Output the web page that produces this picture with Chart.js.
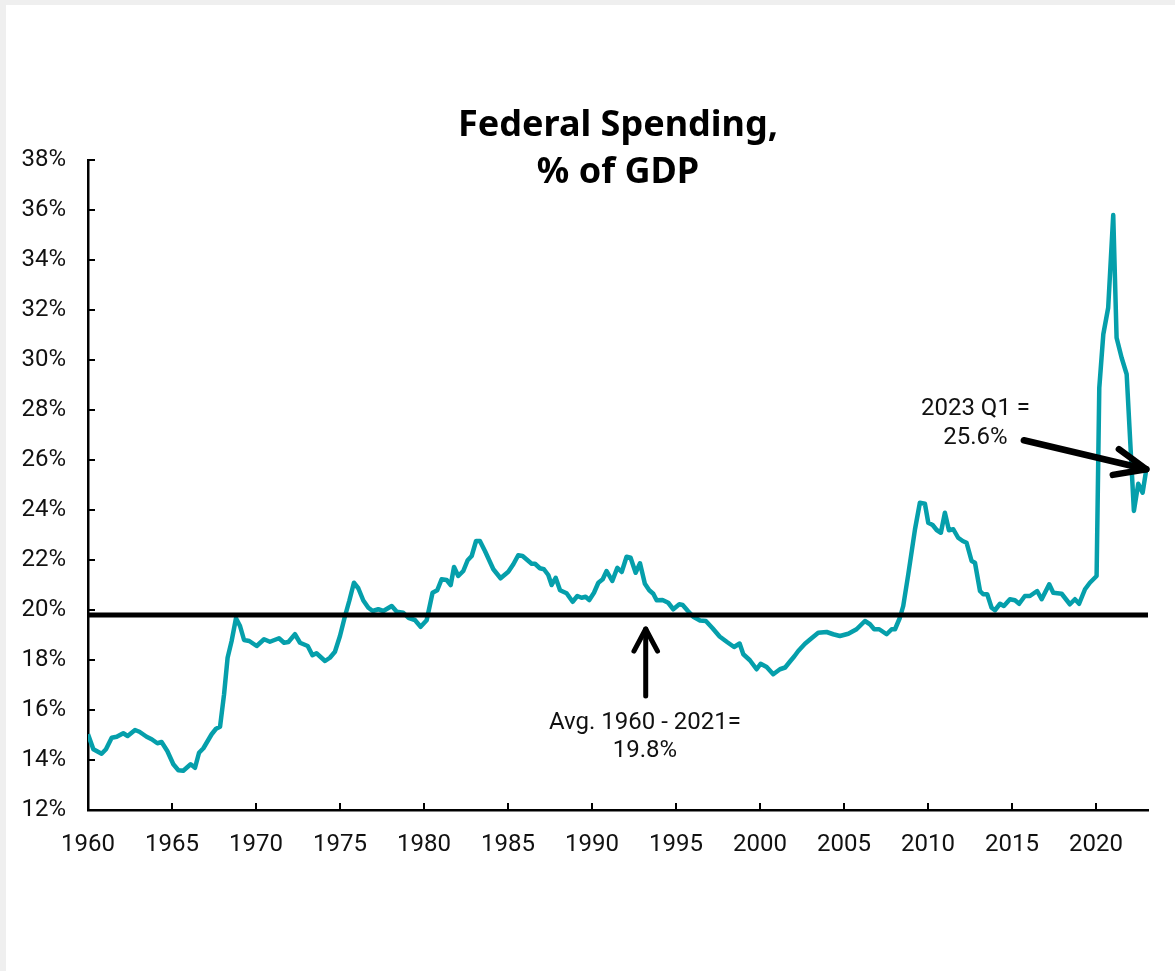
<!DOCTYPE html>
<html>
<head>
<meta charset="utf-8">
<script src="https://cdn.jsdelivr.net/npm/chart.js@4.4.1/dist/chart.umd.min.js"></script>
<style>
  html, body { margin: 0; padding: 0; background: #efefef; width: 1175px; height: 971px; overflow: hidden; }
  #wrap { position: absolute; left: 6px; top: 5px; width: 1169px; height: 966px; background: #ffffff; }
  canvas { display: block; }
</style>
</head>
<body>
<div id="wrap"><canvas id="c" width="1169" height="966"></canvas></div>
<script>
// ---- Data ----
const TITLE_LINES = ['Federal Spending,', '% of GDP'];

// Decimal year positions of line vertices
const YEARS = [
  1960.00,1960.32,1960.81,1961.07,1961.41,1961.71,1962.10,1962.36,1962.80,1963.06,
  1963.49,1963.79,1964.13,1964.38,1964.72,1965.08,1965.38,1965.67,1966.11,1966.37,
  1966.61,1966.87,1967.36,1967.62,1967.86,1968.10,1968.31,1968.55,1968.81,1969.05,
  1969.29,1969.60,1970.04,1970.48,1970.83,1971.37,1971.67,1971.93,1972.32,1972.62,
  1973.08,1973.36,1973.60,1974.11,1974.40,1974.70,1975.00,1975.30,1975.56,1975.83,
  1976.09,1976.39,1976.69,1976.95,1977.28,1977.58,1978.08,1978.38,1978.77,1979.07,
  1979.46,1979.80,1980.16,1980.51,1980.79,1981.05,1981.35,1981.59,1981.79,1982.04,
  1982.34,1982.60,1982.84,1983.10,1983.33,1983.63,1984.13,1984.56,1985.02,1985.32,
  1985.61,1985.87,1986.41,1986.61,1986.90,1987.14,1987.40,1987.60,1987.84,1988.10,
  1988.49,1988.85,1989.13,1989.38,1989.62,1989.84,1990.12,1990.38,1990.64,1990.87,
  1991.21,1991.51,1991.77,1992.06,1992.30,1992.60,1992.86,1993.15,1993.41,1993.65,
  1993.85,1994.20,1994.54,1994.84,1995.20,1995.40,1995.70,1996.03,1996.43,1996.78,
  1997.18,1997.60,1998.06,1998.46,1998.79,1999.01,1999.40,1999.80,2000.04,2000.40,
  2000.79,2001.19,2001.50,2001.80,2002.05,2002.28,2002.68,2003.07,2003.47,2003.97,
  2004.36,2004.76,2005.26,2005.75,2006.25,2006.55,2006.80,2007.10,2007.54,2007.84,
  2008.04,2008.33,2008.53,2008.83,2009.23,2009.52,2009.82,2010.02,2010.28,2010.52,
  2010.77,2011.01,2011.25,2011.51,2011.80,2012.07,2012.30,2012.60,2012.80,2013.10,
  2013.29,2013.53,2013.79,2013.99,2014.29,2014.52,2014.88,2015.18,2015.43,2015.77,
  2016.07,2016.50,2016.77,2017.22,2017.46,2017.96,2018.45,2018.75,2019.00,2019.35,
  2019.64,2020.04,2020.20,2020.44,2020.73,2021.03,2021.23,2021.53,2021.83,2022.26,
  2022.52,2022.78,2023.00
];

// Federal spending, % of GDP
const SPENDING = [
  15.03,14.43,14.25,14.43,14.89,14.93,15.07,14.96,15.20,15.13,
  14.93,14.83,14.67,14.72,14.36,13.83,13.59,13.57,13.83,13.69,
  14.29,14.47,15.03,15.25,15.33,16.63,18.09,18.76,19.67,19.36,
  18.80,18.76,18.56,18.83,18.73,18.87,18.69,18.72,19.03,18.69,
  18.56,18.19,18.27,17.96,18.09,18.33,18.96,19.76,20.38,21.09,
  20.87,20.38,20.09,19.96,20.03,19.96,20.16,19.93,19.89,19.69,
  19.60,19.33,19.59,20.69,20.79,21.23,21.20,21.00,21.72,21.36,
  21.56,21.99,22.16,22.76,22.76,22.36,21.63,21.27,21.53,21.83,
  22.19,22.16,21.85,21.85,21.67,21.63,21.40,21.00,21.29,20.79,
  20.67,20.33,20.56,20.49,20.53,20.40,20.69,21.09,21.23,21.56,
  21.16,21.69,21.52,22.13,22.09,21.49,21.87,21.05,20.79,20.65,
  20.39,20.40,20.29,20.03,20.23,20.20,19.97,19.73,19.58,19.56,
  19.27,18.94,18.71,18.52,18.66,18.23,17.99,17.63,17.85,17.72,
  17.43,17.63,17.70,17.95,18.15,18.36,18.65,18.87,19.09,19.12,
  19.03,18.96,19.05,19.23,19.56,19.43,19.23,19.23,19.03,19.23,
  19.23,19.69,20.16,21.43,23.23,24.29,24.25,23.49,23.40,23.20,
  23.09,23.89,23.19,23.23,22.89,22.76,22.69,21.96,21.89,20.76,
  20.63,20.63,20.09,19.99,20.25,20.16,20.43,20.39,20.25,20.56,
  20.56,20.76,20.43,21.03,20.69,20.65,20.23,20.43,20.25,20.83,
  21.09,21.36,28.89,31.03,32.09,35.80,30.89,30.09,29.43,23.96,
  25.05,24.69,25.63
];

// Average 1960-2021
const AVG_VALUE = 19.8;
const AVG_SPAN = [1960, 2023.1];

// Axis settings
const X_MIN = 1960, X_MAX = 2023.1, X_STEP = 5, X_LAST_LABEL = 2020;
const Y_MIN = 12, Y_MAX = 38, Y_STEP = 2;

// Annotation texts
const AVG_NOTE = ['Avg. 1960 - 2021=', '19.8%'];
const LAST_NOTE = ['2023 Q1 =', '25.6%'];

// ---- Chart ----
const TEAL = '#059FAB';
const spendingPoints = YEARS.map((x, i) => ({ x: x, y: SPENDING[i] }));
const avgPoints = AVG_SPAN.map(x => ({ x: x, y: AVG_VALUE }));

function drawArrow(ctx, x1, y1, x2, y2, width, headLen, headAngle) {
  const ang = Math.atan2(y2 - y1, x2 - x1);
  ctx.save();
  ctx.strokeStyle = '#000';
  ctx.lineWidth = width;
  ctx.lineCap = 'round';
  ctx.lineJoin = 'round';
  ctx.beginPath();
  ctx.moveTo(x1, y1);
  ctx.lineTo(x2, y2);
  ctx.stroke();
  ctx.beginPath();
  ctx.moveTo(x2 - headLen * Math.cos(ang - headAngle), y2 - headLen * Math.sin(ang - headAngle));
  ctx.lineTo(x2, y2);
  ctx.lineTo(x2 - headLen * Math.cos(ang + headAngle), y2 - headLen * Math.sin(ang + headAngle));
  ctx.stroke();
  ctx.restore();
}

const decorPlugin = {
  id: 'decor',
  afterDraw(chart) {
    const ctx = chart.ctx;
    const xs = chart.scales.x, ys = chart.scales.y;
    const area = chart.chartArea;
    ctx.save();
    // inner tick marks
    ctx.strokeStyle = '#000';
    ctx.lineWidth = 2;
    for (let v = Y_MIN; v <= Y_MAX + 1e-9; v += Y_STEP) {
      const y = Math.round(ys.getPixelForValue(v));
      ctx.beginPath();
      ctx.moveTo(area.left, y);
      ctx.lineTo(area.left + 7, y);
      ctx.stroke();
    }
    for (let v = X_MIN + X_STEP; v <= X_LAST_LABEL + 1e-9; v += X_STEP) {
      const x = Math.round(xs.getPixelForValue(v));
      ctx.beginPath();
      ctx.moveTo(x, area.bottom);
      ctx.lineTo(x, area.bottom - 7);
      ctx.stroke();
    }
    // title
    ctx.fillStyle = '#000';
    ctx.textAlign = 'center';
    ctx.textBaseline = 'middle';
    ctx.font = 'bold 36px "Noto Sans"';
    const cx = (area.left + area.right) / 2;
    ctx.fillText(TITLE_LINES[0], cx, 121);
    ctx.fillText(TITLE_LINES[1], cx, 168);

    // avg annotation
    ctx.font = '24px Roboto';
    ctx.fillStyle = '#111';
    const ax = xs.getPixelForValue(1993.2);
    drawArrow(ctx, ax, ys.getPixelForValue(16.56), ax, ys.getPixelForValue(19.24), 5, 25, 0.49);
    ctx.fillText(AVG_NOTE[0], xs.getPixelForValue(1993.15), ys.getPixelForValue(15.48));
    ctx.fillText(AVG_NOTE[1], xs.getPixelForValue(1993.15), ys.getPixelForValue(14.36));

    // last value annotation
    const lastX = YEARS[YEARS.length - 1], lastY = SPENDING[SPENDING.length - 1];
    drawArrow(ctx, xs.getPixelForValue(2015.71), ys.getPixelForValue(26.79),
              xs.getPixelForValue(lastX), ys.getPixelForValue(lastY), 6.5, 34, 0.4);
    ctx.fillText(LAST_NOTE[0], xs.getPixelForValue(2012.83), ys.getPixelForValue(28.04));
    ctx.fillText(LAST_NOTE[1], xs.getPixelForValue(2012.83), ys.getPixelForValue(26.88));
    ctx.restore();
  }
};

new Chart(document.getElementById('c'), {
  type: 'line',
  data: {
    datasets: [
      {
        label: 'Avg. 1960 - 2021',
        data: avgPoints,
        borderColor: '#000',
        borderWidth: 5,
        pointRadius: 0,
        tension: 0,
        order: 0
      },
      {
        label: 'Federal Spending, % of GDP',
        data: spendingPoints,
        borderColor: TEAL,
        borderWidth: 4.5,
        pointRadius: 0,
        tension: 0,
        borderJoinStyle: 'round',
        order: 1
      }
    ]
  },
  options: {
    responsive: false,
    animation: false,
    devicePixelRatio: 1,
    layout: { padding: { left: 0, right: 27, top: 155, bottom: 0 } },
    plugins: {
      legend: { display: false },
      title: { display: false },
      tooltip: { enabled: false }
    },
    scales: {
      x: {
        type: 'linear',
        min: X_MIN,
        max: X_MAX,
        afterFit: s => { s.height = 161; },
        grid: { display: false, drawTicks: false },
        border: { display: true, color: '#000', width: 2.5 },
        ticks: {
          stepSize: X_STEP,
          includeBounds: false,
          autoSkip: false,
          maxRotation: 0,
          padding: 21,
          color: '#111',
          font: { family: 'Roboto', size: 24 },
          callback: v => (v <= X_LAST_LABEL ? String(v) : '')
        }
      },
      y: {
        min: Y_MIN,
        max: Y_MAX,
        afterFit: s => { s.width = 82; },
        grid: { display: false, drawTicks: false },
        border: { display: true, color: '#000', width: 2.5 },
        ticks: {
          stepSize: Y_STEP,
          padding: 22,
          color: '#111',
          font: { family: 'Roboto', size: 24 },
          callback: v => v + '%'
        }
      }
    }
  },
  plugins: [decorPlugin]
});
</script>
</body>
</html>
